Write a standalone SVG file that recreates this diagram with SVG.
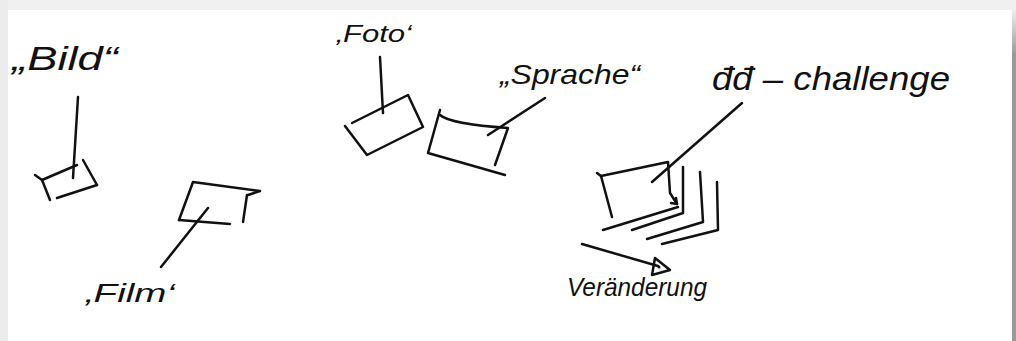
<svg xmlns="http://www.w3.org/2000/svg" width="1016" height="341" viewBox="0 0 1016 341">
<style>
.s{fill:none;stroke:#111;stroke-width:2.5;stroke-linecap:round;stroke-linejoin:round}
.t{font-family:"Liberation Sans","DejaVu Sans",sans-serif;font-style:italic;fill:#111}
</style>
<defs>
<linearGradient id="rs" x1="0" y1="0" x2="0" y2="1">
<stop offset="0" stop-color="#eeeeee"/><stop offset="1" stop-color="#999999"/>
</linearGradient>
</defs>
<rect x="0" y="0" width="1016" height="341" fill="#f0f0f0"/>
<rect x="0" y="0" width="8" height="341" fill="#ececec"/>
<rect x="8" y="10" width="1004" height="331" fill="#ffffff"/>
<rect x="1012" y="10" width="4" height="45" fill="url(#rs)"/>
<rect x="1012" y="55" width="4" height="286" fill="#999999"/>

<g id="connectors">
<path class="s" d="M78 97 L73 178"/>
<path class="s" d="M208 208 L161 267"/>
<path class="s" d="M380 57 L383 113"/>
<path class="s" d="M488 135 L545 98"/>
<path class="s" d="M742 103 L652 182"/>
<path class="s" d="M582 244 L658 266"/>
<path class="s" d="M655 258 L670 270 L652 275 Z"/>
<circle cx="659" cy="267" r="1.5" fill="#111"/>
</g>

<g id="bild">
<text class="t" x="12" y="70" font-size="34" textLength="106" lengthAdjust="spacingAndGlyphs">„Bild“</text>
<path class="s" d="M35 175 L42 180 L77 165"/>
<path class="s" d="M42 180 L50 200"/>
<path class="s" d="M83 160 L97 185"/>
<path class="s" d="M57 198 L97 185"/>
</g>

<g id="film">
<text class="t" x="85" y="302" font-size="26" textLength="90" lengthAdjust="spacingAndGlyphs">‚Film‘</text>
<path class="s" d="M179 220 L193 182 L260 191 L248 195"/>
<path class="s" d="M247 195 L243 222"/>
<path class="s" d="M179 220 L230 224"/>
</g>

<g id="foto">
<text class="t" x="336" y="42" font-size="24" textLength="76" lengthAdjust="spacingAndGlyphs">‚Foto‘</text>
<path class="s" d="M352 123 L408 95 L423 127 L367 155 L345 126"/>
</g>

<g id="sprache">
<text class="t" x="500" y="84" font-size="28" textLength="140" lengthAdjust="spacingAndGlyphs">„Sprache“</text>
<path class="s" d="M440 110 L428 153 L505 175"/>
<path class="s" d="M440 115 Q450 124 508 128 L495 165"/>
</g>

<g id="challenge">
<text class="t" x="712" y="90" font-size="34" textLength="238" lengthAdjust="spacingAndGlyphs">đđ – challenge</text>
<path class="s" d="M597 173 L601 176 L668 162 L670 193 L677 204"/>
<path class="s" d="M671 203 L677 204 L676 198"/>
<path class="s" d="M601 176 L612 217"/>
<path class="s" d="M603 230 L678 207"/>
<path class="s" d="M683 167 L683 213 L632 230"/>
<path class="s" d="M700 172 L703 222 L647 239"/>
<path class="s" d="M717 182 L718 230 L662 244"/>
</g>

<g id="veraenderung">
<text class="t" x="567" y="296" font-size="26" textLength="140" lengthAdjust="spacingAndGlyphs">Veränderung</text>
</g>
</svg>
